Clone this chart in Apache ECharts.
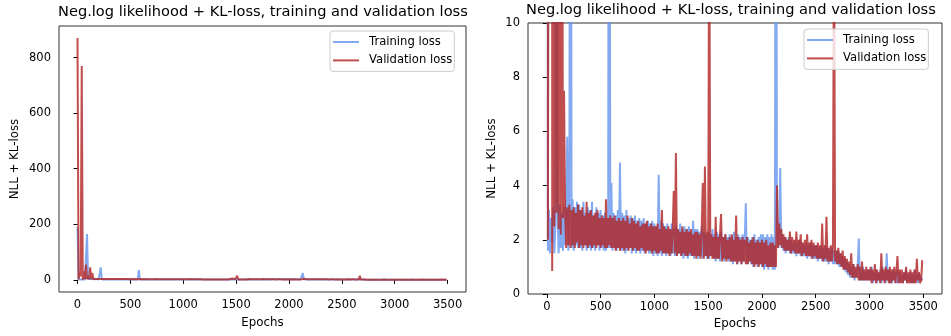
<!DOCTYPE html>
<html><head><meta charset="utf-8">
<script src="https://cdn.jsdelivr.net/npm/echarts@6/dist/echarts.min.js"></script>
<style>html,body{margin:0;padding:0;background:#fff}#c{width:951px;height:336px}</style>
</head><body><div id="c"></div>
<script>
const epochStep = 10;
const titleText = 'Neg.log likelihood + KL-loss, training and validation loss';
const seriesNames = ['Training loss', 'Validation loss'];
const xTicks = [0, 500, 1000, 1500, 2000, 2500, 3000, 3500];
const yTicksLeft = [0, 200, 400, 600, 800];
const yTicksRight = [0, 2, 4, 6, 8, 10];

const trainLoss = [
190,1.6,3.1,1.5,2.8,1.9,3.2,1.5,2.6,165,
2.9,1.5,3.3,1.7,3.0,1.6,3.2,1.8,2.9,5.8,
1.6,3.3,45,1.7,3.5,1.6,3.2,1.8,3.4,1.7,
3.3,1.7,3.1,1.6,3.4,1.8,3.0,1.6,3.2,1.7,
3.1,1.6,3.4,1.7,2.9,1.6,3.2,1.8,3.0,1.6,
3.1,1.7,2.9,1.6,3.0,1.6,2.8,1.7,35,1.7,
4.1,1.6,3.0,1.7,2.9,1.6,3.1,1.7,4.85,1.6,
3.0,1.6,2.9,1.5,3.1,1.6,2.8,1.7,2.9,1.5,
2.8,1.6,2.9,1.5,2.7,1.6,2.8,1.5,2.7,1.6,
2.8,1.5,2.6,1.6,2.7,1.5,2.6,1.5,2.7,1.4,
2.6,1.5,2.5,1.4,4.4,1.5,2.7,1.4,2.6,1.5,
2.5,1.4,2.6,1.5,2.4,1.4,2.6,1.5,2.4,1.4,
2.5,1.4,2.4,1.5,2.6,1.4,2.4,1.3,2.5,1.4,
2.4,1.3,2.5,1.4,2.3,1.4,2.7,1.3,2.4,1.4,
2.4,1.3,2.3,1.4,2.5,1.3,2.3,1.4,2.2,1.3,
2.3,1.3,2.2,1.4,2.4,1.3,2.2,1.2,2.3,1.3,
2.2,1.2,2.3,1.3,2.1,1.2,2.2,1.3,2.1,1.2,
2.2,1.2,2.1,1.1,2.3,1.2,2.1,1.1,2.2,1.2,
2.1,1.1,2.2,1.2,2.0,3.35,1.1,2.1,1.2,2.0,
1.1,2.1,1.0,2.2,1.1,2.0,1.0,2.1,1.1,2.2,
1.0,2.2,0.9,2.1,1.0,2.2,0.9,2.1,1.0,2.2,
0.9,2.1,0.9,25,2.2,1.7,2.4,4.65,1.7,2.2,
1.6,2.1,1.5,2.0,1.6,2.1,1.5,2.0,1.5,1.9,
1.5,2.0,1.4,1.9,1.5,2.0,1.4,1.9,1.4,1.8,
1.4,1.9,1.3,1.8,1.4,1.9,1.3,1.8,1.3,1.8,
1.3,1.8,1.2,1.7,1.3,1.8,1.2,1.7,1.2,1.8,
1.2,1.7,1.1,1.6,1.2,1.7,1.1,1.6,1.1,1.6,
1.1,1.6,1.0,1.5,1.0,1.4,0.9,1.3,0.8,1.2,
0.7,1.1,0.6,1.0,0.6,1.1,0.5,0.9,0.6,1.0,
2.05,0.5,0.9,0.5,1.0,0.5,0.8,0.5,0.9,0.5,
0.9,0.5,1.0,0.4,0.8,0.5,0.9,0.4,0.8,0.5,
0.9,0.4,1.0,0.5,0.8,0.4,1.5,0.5,0.9,0.4,
0.8,0.4,0.9,0.5,0.8,0.4,0.9,0.4,0.8,0.5,
0.7,0.4,0.8,0.5,0.9,0.4,0.7,0.5,0.8,0.4,
0.7,0.4,0.9,0.5,0.7,0.4,0.8,0.5,0.6,0.5
];

const valLoss = [
870,2.0,25,12,770,0.85,30,2.5,55,3.0,
14,2.4,45,2.2,25,2.8,7.5,3.0,1.7,3.2,
1.8,3.3,1.7,3.1,1.8,3.2,1.7,3.0,1.9,3.3,
1.7,3.1,1.8,3.2,1.7,2.9,1.8,3.4,1.7,3.0,
1.8,3.1,1.7,2.9,1.8,3.0,1.7,3.1,1.8,2.8,
1.7,2.9,1.8,2.8,1.7,3.5,1.7,2.8,1.8,2.9,
1.7,2.8,1.7,2.9,1.6,2.7,1.7,2.8,1.6,2.7,
1.7,2.8,1.6,2.7,1.7,2.9,1.6,2.6,1.7,2.8,
1.6,2.7,1.7,2.6,1.6,2.7,1.6,2.5,1.7,2.6,
1.6,2.6,1.5,2.7,1.6,2.5,1.6,2.6,1.5,2.5,
1.6,2.5,1.5,2.6,1.5,2.4,1.6,3.1,1.5,2.5,
1.5,2.4,1.5,2.5,1.4,2.4,1.5,2.3,3.8,1.5,
5.2,1.4,2.4,1.5,2.3,1.4,2.5,1.5,2.3,1.4,
2.4,1.4,2.3,1.5,2.4,1.4,2.2,1.4,2.3,1.3,
2.3,1.4,2.2,1.3,2.4,4.1,1.3,4.7,1.4,2.3,
1.3,15,1.4,2.2,1.3,2.1,1.3,2.85,1.3,2.1,
1.3,2.2,2.95,1.2,2.1,1.3,2.2,1.2,2.0,1.3,
2.1,1.2,2.2,1.2,2.0,1.2,2.9,1.1,2.1,1.2,
2.0,1.1,2.1,1.2,2.0,1.1,2.1,1.1,1.9,1.2,
2.0,1.1,2.1,1.0,1.9,1.1,2.0,1.0,1.9,1.1,
2.0,1.0,1.9,1.1,2.0,1.0,1.8,1.0,1.9,1.0,
1.9,1.0,1.8,1.0,4.0,1.7,2.6,1.8,2.4,1.7,
2.2,1.6,2.1,1.6,2.0,1.6,2.3,1.5,2.1,1.6,
2.0,1.5,2.3,1.5,2.0,1.5,2.2,1.4,1.9,1.5,
2.0,1.4,2.2,1.4,1.9,1.4,2.0,1.3,1.9,1.4,
1.8,1.3,1.9,1.3,1.8,1.3,2.6,1.2,1.8,1.3,
2.85,1.2,1.7,1.2,1.8,1.2,1.7,15,1.2,1.6,
1.1,1.7,1.1,1.5,1.0,1.6,0.9,1.4,0.9,1.3,
0.8,1.2,0.7,1.5,0.6,1.1,0.6,1.0,0.6,1.1,
0.5,1.0,0.5,1.2,0.5,0.9,0.5,1.0,0.5,0.9,
0.5,1.0,0.4,0.9,0.5,1.1,0.4,0.9,0.5,0.8,
0.4,1.5,0.5,0.9,0.4,1.0,0.5,0.9,0.4,1.0,
0.4,0.9,0.5,1.0,0.4,0.8,1.4,0.4,0.9,0.4,
0.9,0.4,0.8,0.5,1.0,0.4,0.8,0.4,0.9,0.4,
0.8,0.4,0.9,0.4,1.3,0.5,0.8,0.4,0.5,1.25
];

const FONT = 'DejaVu Sans';
const colTrain = 'rgba(100,149,237,0.8)';
const colVal = 'rgba(178,34,34,0.8)';
const toPairs = arr => arr.map((v, i) => [i * epochStep, v]);
const plain = v => String(v);

function xAxisCfg(gridIndex, nameGap) {
  return {
    type: 'value', gridIndex, min: -175, max: 3674,
    name: 'Epochs', nameLocation: 'middle', nameGap,
    nameTextStyle: { fontFamily: FONT, fontSize: 11.8, color: '#000' },
    axisLine: { show: false },
    axisTick: { show: true, length: 4, customValues: xTicks, lineStyle: { color: '#000', width: 1 } },
    axisLabel: { customValues: xTicks, formatter: plain, margin: 7, fontFamily: FONT, fontSize: 11.5, color: '#000' },
    splitLine: { show: false }
  };
}
function yAxisCfg(gridIndex, min, max, ticks, nameGap) {
  return {
    type: 'value', gridIndex, min, max,
    name: 'NLL + KL-loss', nameLocation: 'middle', nameGap, nameRotate: 90,
    nameTextStyle: { fontFamily: FONT, fontSize: 11.8, color: '#000' },
    axisLine: { show: false },
    axisTick: { show: true, length: 4, customValues: ticks, lineStyle: { color: '#000', width: 1 } },
    axisLabel: { customValues: ticks, formatter: plain, margin: 8, fontFamily: FONT, fontSize: 11.5, color: '#000' },
    splitLine: { show: false }
  };
}
function lineSeries(name, data, color, idx) {
  return {
    type: 'line', name, data: toPairs(data), xAxisIndex: idx, yAxisIndex: idx,
    showSymbol: false, symbol: 'none', sampling: null, clip: true,
    lineStyle: { color, width: 2 }, itemStyle: { color },
    emphasis: { disabled: true }, animation: false
  };
}
function legendCfg(left, top) {
  return {
    left, top, orient: 'vertical', data: seriesNames,
    icon: 'rect', itemWidth: 26, itemHeight: 2, itemGap: 4.4,
    padding: [4, 2, 4, 3],
    borderColor: '#cccccc', borderWidth: 1, borderRadius: 3,
    backgroundColor: 'rgba(255,255,255,0.8)',
    textStyle: { fontFamily: FONT, fontSize: 11.6, color: '#000', lineHeight: 14, padding: [0, 0, 0, 5] },
    selectedMode: false
  };
}

const chart = echarts.init(document.getElementById('c'), null, { renderer: 'canvas' });
chart.setOption({
  animation: false,
  backgroundColor: '#fff',
  title: [
    { text: titleText, left: 58, top: 5, padding: 0, textStyle: { fontFamily: FONT, fontSize: 14.6, fontWeight: 'normal', color: '#000' } },
    { text: titleText, left: 526, top: 3, padding: 0, textStyle: { fontFamily: FONT, fontSize: 14.6, fontWeight: 'normal', color: '#000' } }
  ],
  legend: [legendCfg(330, 31), legendCfg(804, 29)],
  grid: [
    { left: 59, top: 26, width: 407, height: 266, show: true, borderColor: '#333', borderWidth: 1, backgroundColor: 'transparent' },
    { left: 528, top: 23, width: 414, height: 271, show: true, borderColor: '#333', borderWidth: 1, backgroundColor: 'transparent' }
  ],
  xAxis: [xAxisCfg(0, 25), xAxisCfg(1, 23)],
  yAxis: [yAxisCfg(0, -43.5, 913.5, yTicksLeft, 38), yAxisCfg(1, 0, 10, yTicksRight, 30)],
  series: [
    lineSeries(seriesNames[0], trainLoss, colTrain, 0),
    lineSeries(seriesNames[1], valLoss, colVal, 0),
    lineSeries(seriesNames[0], trainLoss, colTrain, 1),
    lineSeries(seriesNames[1], valLoss, colVal, 1)
  ]
});
</script></body></html>
